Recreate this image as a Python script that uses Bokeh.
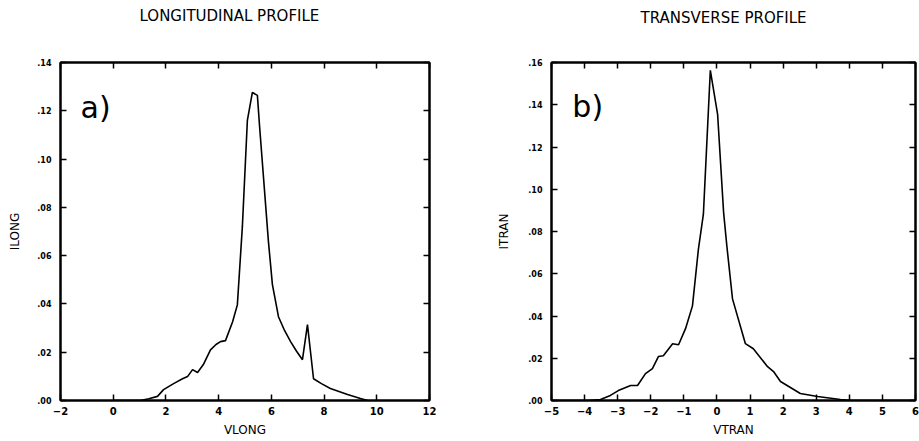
from bokeh.plotting import figure
from bokeh.layouts import row
from bokeh.models import Range1d, LinearAxis, FixedTicker, Label
from bokeh.embed import file_html
from bokeh.resources import INLINE

# ---- data: longitudinal profile ----
vlong = [0.0, 0.6, 1.03, 1.35, 1.68, 1.91, 2.29, 2.63, 2.82, 3.01, 3.20, 3.42,
         3.69, 3.90, 4.07, 4.26, 4.53, 4.71, 4.90, 5.09, 5.28, 5.47, 5.55, 5.89,
         6.04, 6.27, 6.50, 6.73, 6.95, 7.18, 7.37, 7.60, 7.90, 8.24, 8.89, 9.38, 9.65]
ilong = [0.0, 0.0, 0.0, 0.0007, 0.0017, 0.0045, 0.0070, 0.0090, 0.0099, 0.0128, 0.0116, 0.0149,
         0.0210, 0.0232, 0.0244, 0.0248, 0.0326, 0.0396, 0.0720, 0.1160, 0.1276, 0.1264, 0.1140, 0.0657,
         0.0480, 0.0347, 0.0290, 0.0244, 0.0205, 0.0169, 0.0314, 0.0090, 0.0070, 0.0050, 0.0025, 0.0008, 0.0]

# ---- data: transverse profile ----
vtran = [-5.0, -4.3, -3.91, -3.52, -3.22, -2.98, -2.61, -2.40, -2.16, -1.95, -1.77, -1.62,
         -1.34, -1.16, -0.95, -0.74, -0.56, -0.41, -0.20, 0.02, 0.20, 0.30, 0.47,
         0.86, 1.10, 1.53, 1.71, 1.92, 2.52, 3.04, 3.73, 4.06, 6.0]
itran = [0.0, 0.0, 0.0, 0.0005, 0.0024, 0.0047, 0.0071, 0.0071, 0.0127, 0.0151, 0.0208, 0.0212,
         0.0269, 0.0264, 0.0340, 0.0448, 0.0717, 0.0882, 0.1563, 0.1354, 0.0892, 0.0730, 0.0481,
         0.0269, 0.0245, 0.0160, 0.0137, 0.0090, 0.0033, 0.0019, 0.0005, 0.0, 0.0]

# ---- ticks ----
long_xticks = [-2, 0, 2, 4, 6, 8, 10, 12]
long_yticks = [0, 0.02, 0.04, 0.06, 0.08, 0.1, 0.12, 0.14]
long_ylabels = [".00", ".02", ".04", ".06", ".08", ".10", ".12", ".14"]
tran_xticks = [-5, -4, -3, -2, -1, 0, 1, 2, 3, 4, 5, 6]
tran_yticks = [0, 0.02, 0.04, 0.06, 0.08, 0.1, 0.12, 0.14, 0.16]
tran_ylabels = [".00", ".02", ".04", ".06", ".08", ".10", ".12", ".14", ".16"]

FONT = "DejaVu Sans"
H = 440


def style_axis(ax, ticks, labels=None, show=True, tick_size="10px", standoff=5, lab_standoff=5,
               lab_size="12px"):
    ax.ticker = FixedTicker(ticks=ticks)
    ax.major_tick_in = 6
    ax.major_tick_out = 0
    ax.minor_tick_in = 0
    ax.minor_tick_out = 0
    ax.major_tick_line_width = 1.5
    ax.major_tick_line_color = "black"
    ax.axis_line_width = 2
    ax.axis_line_color = "black"
    ax.major_label_text_font = FONT
    ax.major_label_text_font_style = "bold"
    ax.axis_label_text_font = FONT
    ax.axis_label_text_font_style = "normal"
    ax.axis_label_text_font_size = lab_size
    ax.axis_label_text_color = "black"
    ax.axis_label_standoff = lab_standoff
    if show:
        ax.major_label_text_color = "black"
        ax.major_label_text_font_size = tick_size
        ax.major_label_standoff = standoff
        if labels is not None:
            ax.major_label_overrides = {t: l for t, l in zip(ticks, labels)}
    else:
        ax.major_label_text_color = None
        ax.major_label_text_font_size = "1px"
        ax.major_label_standoff = 0


def make_fig(title, xr, yr, xticks, yticks, ylabels, xs, ys, xlabel, ylabel,
             width, mb_left, mb_right, title_gap, title_offset,
             tag, tag_x, tag_y, ylab_standoff):
    p = figure(width=width, height=H, output_backend="svg", toolbar_location=None,
               x_range=Range1d(*xr), y_range=Range1d(*yr),
               min_border_left=mb_left, min_border_right=mb_right,
               min_border_top=62, min_border_bottom=40)
    p.background_fill_color = "white"
    p.border_fill_color = "white"
    p.outline_line_color = "black"
    p.outline_line_width = 2
    p.xgrid.visible = False
    p.ygrid.visible = False

    style_axis(p.xaxis[0], xticks, None, True, "10px", 6, 5)
    style_axis(p.yaxis[0], yticks, ylabels, True, "8px", 9, ylab_standoff)
    p.xaxis[0].axis_label = xlabel
    p.yaxis[0].axis_label = ylabel

    # top axis: inward ticks only
    top = LinearAxis()
    style_axis(top, xticks, None, False)
    p.add_layout(top, "above")
    # invisible spacer between frame and title
    spacer = LinearAxis()
    style_axis(spacer, xticks, None, False)
    spacer.major_tick_in = 0
    spacer.major_tick_out = title_gap
    spacer.major_tick_line_color = None
    spacer.axis_line_color = None
    p.add_layout(spacer, "above")
    right = LinearAxis()
    style_axis(right, yticks, None, False)
    p.add_layout(right, "right")

    p.title.text = title
    p.title.align = "left"
    p.title.offset = title_offset
    p.title.standoff = 0
    p.title.text_font = FONT
    p.title.text_font_style = "normal"
    p.title.text_font_size = "15px"
    p.title.text_color = "black"

    p.line(xs, ys, line_color="black", line_width=1.6)

    p.add_layout(Label(x=tag_x, y=tag_y, text=tag, text_font=FONT,
                       text_font_size="30px", text_color="black",
                       text_baseline="alphabetic", text_align="left"))
    return p


p1 = make_fig("LONGITUDINAL PROFILE", (-2, 12), (0, 0.14), long_xticks, long_yticks, long_ylabels,
              vlong, ilong, "VLONG", "ILONG",
              width=470, mb_left=60, mb_right=41, title_gap=38, title_offset=79,
              tag="a)", tag_x=-1.24, tag_y=0.1214, ylab_standoff=12)
p2 = make_fig("TRANSVERSE PROFILE", (-5, 6), (0, 0.16), tran_xticks, tran_yticks, tran_ylabels,
              vtran, itran, "VTRAN", "ITRAN",
              width=449, mb_left=81, mb_right=4, title_gap=36, title_offset=89,
              tag="b)", tag_x=-4.37, tag_y=0.1392, ylab_standoff=14)

layout = row(p1, p2)
open("out.html", "w").write(file_html(layout, INLINE))
